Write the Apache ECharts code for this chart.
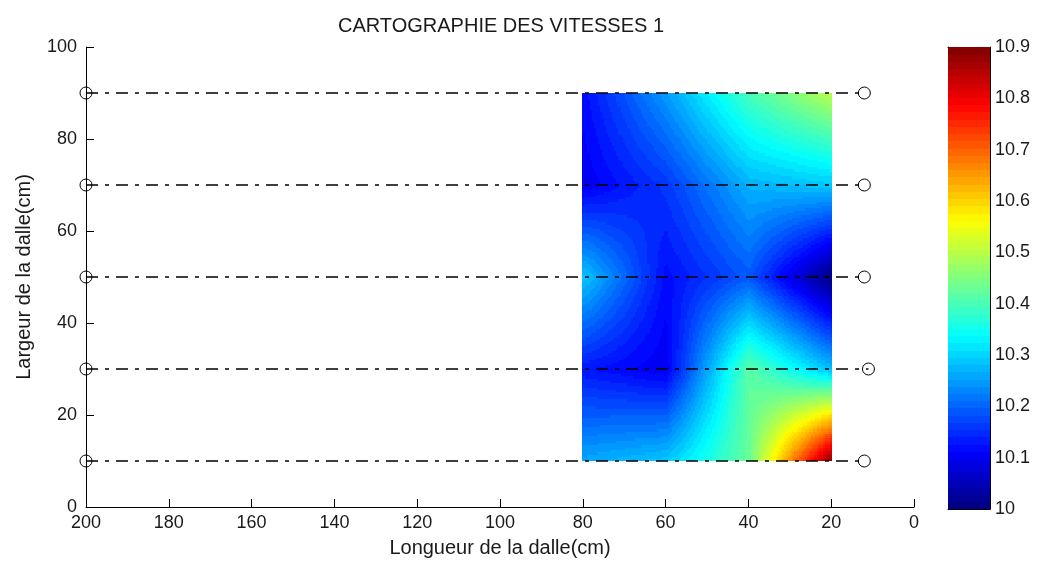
<!DOCTYPE html>
<html><head><meta charset="utf-8">
<script src="https://cdn.jsdelivr.net/npm/echarts@6/dist/echarts.min.js"></script>
<style>html,body{margin:0;padding:0;background:#fff}#c{width:1037px;height:563px}</style>
</head><body><div id="c"></div>
<script>
// ---- data ----
const xNodes = [80, 60, 40, 20];
const yNodes = [10, 30, 50, 70, 90];
// measured speeds at the nodes (columns follow xNodes)
const speedY10 = [10.26, 10.29, 10.43, 10.90];
const speedY30 = [10.13, 10.10, 10.42, 10.28];
const speedY50 = [10.29, 10.12, 10.19, 10.00];
const speedY70 = [10.10, 10.16, 10.27, 10.29];
const speedY90 = [10.12, 10.25, 10.40, 10.50];
const lineY = [10, 30, 50, 70, 90];
const lineXStart = [200, 200, 200, 200, 200];
const lineXEnd = [12, 11, 12, 12, 12];
const colorMin = 10, colorMax = 10.9, colorLevels = 64;
const titleText = 'CARTOGRAPHIE DES VITESSES 1';
const xName = 'Longueur de la dalle(cm)';
const yName = 'Largeur de la dalle(cm)';

// ---- build interpolated field (bilinear, like interp + contourf) ----
const grid = [speedY10, speedY30, speedY50, speedY70, speedY90];
function nodeVal(ix, iy) { return grid[iy][ix]; }
function interp(x, y) {
  let ix = 0;
  while (ix < xNodes.length - 2 && x < xNodes[ix + 1]) ix++;
  let iy = 0;
  while (iy < yNodes.length - 2 && y > yNodes[iy + 1]) iy++;
  const tx = (x - xNodes[ix]) / (xNodes[ix + 1] - xNodes[ix]);
  const ty = (y - yNodes[iy]) / (yNodes[iy + 1] - yNodes[iy]);
  const v00 = nodeVal(ix, iy), v10 = nodeVal(ix + 1, iy), v01 = nodeVal(ix, iy + 1), v11 = nodeVal(ix + 1, iy + 1);
  return v00 * (1 - tx) * (1 - ty) + v10 * tx * (1 - ty) + v01 * (1 - tx) * ty + v11 * tx * ty;
}
function quantize(v) {
  const step = (colorMax - colorMin) / colorLevels;
  let k = Math.floor((v - colorMin) / step);
  k = Math.max(0, Math.min(colorLevels - 1, k));
  return colorMin + (k + 0.5) * step;
}
const xLo = Math.min(...xNodes), xHi = Math.max(...xNodes);
const yLo = Math.min(...yNodes), yHi = Math.max(...yNodes);
const dx = 0.5, dy = 0.5;
const fieldCells = [];
for (let x = xLo; x < xHi - 1e-9; x += dx) {
  for (let y = yLo; y < yHi - 1e-9; y += dy) {
    const v = interp(x + dx / 2, y + dy / 2);
    fieldCells.push([x, y, x + dx, y + dy, quantize(v)]);
  }
}
const barCells = [];
for (let k = 0; k < colorLevels; k++) {
  const lo = colorMin + k * (colorMax - colorMin) / colorLevels;
  const hi = colorMin + (k + 1) * (colorMax - colorMin) / colorLevels;
  barCells.push([0, lo, 1, hi, (lo + hi) / 2]);
}

function renderRect(params, api) {
  const p0 = api.coord([api.value(0), api.value(1)]);
  const p1 = api.coord([api.value(2), api.value(3)]);
  const x = Math.floor(Math.min(p0[0], p1[0]));
  const y = Math.floor(Math.min(p0[1], p1[1]));
  const w = Math.ceil(Math.max(p0[0], p1[0])) - x;
  const h = Math.ceil(Math.max(p0[1], p1[1])) - y;
  return { type: 'rect', shape: { x, y, width: w, height: h }, style: { fill: api.visual('color') } };
}

const FONT = 'Liberation Sans, Arial, sans-serif';
const TXT = '#1a1a1a';

const lineSeries = lineY.map((y, i) => ({
  type: 'line',
  xAxisIndex: 0, yAxisIndex: 0,
  data: [[lineXStart[i], y], [lineXEnd[i], y]],
  symbol: 'circle', symbolSize: 12,
  itemStyle: { color: 'rgba(0,0,0,0)', borderColor: '#000', borderWidth: 1 },
  lineStyle: { color: '#000', width: 1.5, type: [12, 7, 4, 7] },
  z: 5, silent: true, animation: false
}));

const option = {
  animation: false,
  title: {
    text: titleText, left: 496, top: 11, textAlign: 'center',
    textStyle: { fontFamily: FONT, fontSize: 20, fontWeight: 'normal', color: TXT }
  },
  grid: [
    { left: 86, top: 47, width: 828, height: 462 },
    { left: 948, top: 47, width: 42, height: 462 }
  ],
  xAxis: [
    {
      gridIndex: 0, type: 'value', min: 0, max: 200, interval: 20, inverse: true,
      name: xName, nameLocation: 'middle', nameGap: 31,
      nameTextStyle: { fontFamily: FONT, fontSize: 20, color: TXT },
      axisLine: { show: true, onZero: false, lineStyle: { color: '#000', width: 1 } },
      axisTick: { show: true, inside: true, length: 8, lineStyle: { color: '#000' } },
      axisLabel: { fontFamily: FONT, fontSize: 18, color: TXT, margin: 7 },
      splitLine: { show: false }
    },
    {
      gridIndex: 1, type: 'value', min: 0, max: 1, position: 'bottom',
      axisLine: { show: true, onZero: false, lineStyle: { color: '#000' } },
      axisTick: { show: false }, axisLabel: { show: false }, splitLine: { show: false }
    },
    {
      gridIndex: 1, type: 'value', min: 0, max: 1, position: 'top',
      axisLine: { show: true, onZero: false, lineStyle: { color: '#000' } },
      axisTick: { show: false }, axisLabel: { show: false }, splitLine: { show: false }
    }
  ],
  yAxis: [
    {
      gridIndex: 0, type: 'value', min: 0, max: 100, interval: 20, position: 'left',
      name: yName, nameLocation: 'middle', nameGap: 52,
      nameTextStyle: { fontFamily: FONT, fontSize: 20, color: TXT },
      axisLine: { show: true, onZero: false, lineStyle: { color: '#000', width: 1 } },
      axisTick: { show: true, inside: true, length: 8, lineStyle: { color: '#000' } },
      axisLabel: { fontFamily: FONT, fontSize: 18, color: TXT, margin: 9 },
      splitLine: { show: false }
    },
    {
      gridIndex: 1, type: 'value', min: colorMin, max: colorMax, interval: 0.1, position: 'right',
      axisLine: { show: true, onZero: false, lineStyle: { color: '#000' } },
      axisTick: { show: true, inside: true, length: 4, lineStyle: { color: '#000' } },
      axisLabel: { fontFamily: FONT, fontSize: 18, color: TXT, margin: 5,
        formatter: v => String(Number(v.toFixed(1))) },
      splitLine: { show: false }
    },
    {
      gridIndex: 1, type: 'value', min: colorMin, max: colorMax, interval: 0.1, position: 'left',
      axisLine: { show: true, onZero: false, lineStyle: { color: '#000' } },
      axisTick: { show: true, inside: true, length: 4, lineStyle: { color: '#000' } },
      axisLabel: { show: false }, splitLine: { show: false }
    }
  ],
  visualMap: {
    show: false, type: 'continuous', min: colorMin, max: colorMax, dimension: 4,
    seriesIndex: [0, 1],
    inRange: { color: ['#00007F', '#0000FF', '#007FFF', '#00FFFF', '#7FFF7F', '#FFFF00', '#FF7F00', '#FF0000', '#7F0000'] }
  },
  series: [
    {
      type: 'custom', xAxisIndex: 0, yAxisIndex: 0, data: fieldCells,
      renderItem: renderRect, silent: true, animation: false, progressive: 0, z: 1
    },
    {
      type: 'custom', xAxisIndex: 1, yAxisIndex: 1, data: barCells,
      renderItem: renderRect, silent: true, animation: false, progressive: 0, z: 1
    }
  ].concat(lineSeries)
};
const chart = echarts.init(document.getElementById('c'), null, { renderer: 'canvas' });
chart.setOption(option);
</script></body></html>
